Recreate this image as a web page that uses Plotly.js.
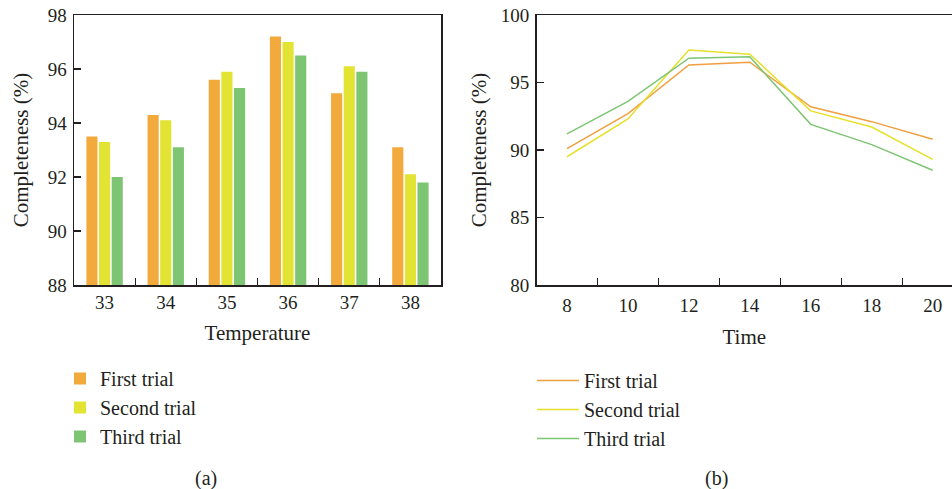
<!DOCTYPE html>
<html>
<head>
<meta charset="utf-8">
<script src="https://cdn.plot.ly/plotly-3.0.1.min.js"></script>
<style>html,body{margin:0;padding:0;background:#fff;}#chart{width:952px;height:489px;}</style>
</head>
<body>
<div id="chart"></div>
<script>
// ---- Data ----
const temperatures = ['33', '34', '35', '36', '37', '38'];
const barFirst  = [93.5, 94.3, 95.6, 97.2, 95.1, 93.1];
const barSecond = [93.3, 94.1, 95.9, 97.0, 96.1, 92.1];
const barThird  = [92.0, 93.1, 95.3, 96.5, 95.9, 91.8];

const times = ['8', '10', '12', '14', '16', '18', '20'];
const lineFirst  = [90.1, 92.7, 96.3, 96.5, 93.2, 92.1, 90.8];
const lineSecond = [89.5, 92.3, 97.4, 97.1, 92.9, 91.7, 89.3];
const lineThird  = [91.2, 93.6, 96.8, 96.9, 91.9, 90.4, 88.5];

const seriesNames = ['First trial', 'Second trial', 'Third trial'];

// ---- Styles ----
const colors = ['#F2AA3C', '#E2E333', '#7DC573'];
const lineColors = ['#F0A040', '#E6E02A', '#7DC573'];
const FONT = 'Liberation Serif, Times New Roman, serif';
const TXT = '#231F20';
const W = 952, H = 489;
const px = v => v / W;
const py = v => 1 - v / H;
const titleFont = {family: FONT, size: 21, color: TXT};
const legendFont = {family: FONT, size: 20, color: TXT};

const traces = [
  {type: 'bar', x: temperatures, y: barFirst,  name: seriesNames[0], marker: {color: colors[0]}, xaxis: 'x', yaxis: 'y', legend: 'legend'},
  {type: 'bar', x: temperatures, y: barSecond, name: seriesNames[1], marker: {color: colors[1]}, xaxis: 'x', yaxis: 'y', legend: 'legend'},
  {type: 'bar', x: temperatures, y: barThird,  name: seriesNames[2], marker: {color: colors[2]}, xaxis: 'x', yaxis: 'y', legend: 'legend'},
  {type: 'scatter', mode: 'lines', x: times, y: lineFirst,  name: seriesNames[0], line: {color: lineColors[0], width: 1.5}, xaxis: 'x2', yaxis: 'y2', legend: 'legend2'},
  {type: 'scatter', mode: 'lines', x: times, y: lineSecond, name: seriesNames[1], line: {color: lineColors[1], width: 1.5}, xaxis: 'x2', yaxis: 'y2', legend: 'legend2'},
  {type: 'scatter', mode: 'lines', x: times, y: lineThird,  name: seriesNames[2], line: {color: lineColors[2], width: 1.5}, xaxis: 'x2', yaxis: 'y2', legend: 'legend2'}
];

const axisCommon = {
  showline: true, linecolor: TXT, linewidth: 1.5,
  ticks: 'inside', ticklen: 7, tickwidth: 1.2, tickcolor: TXT,
  showgrid: false, zeroline: false, fixedrange: true,
  tickfont: {family: FONT, size: 19, color: TXT}
};

const layout = {
  width: W, height: H,
  margin: {l: 0, r: 0, t: 0, b: 0},
  paper_bgcolor: '#fff', plot_bgcolor: '#fff',
  font: {family: FONT, size: 19, color: TXT},
  showlegend: true,
  bargap: 0.38, bargroupgap: 0.12,
  xaxis: Object.assign({}, axisCommon, {
    domain: [px(74), px(441)], anchor: 'y', type: 'category',
    range: [-0.5, 5.5], tickson: 'boundaries', mirror: true,
    title: {text: 'Temperature', font: titleFont, standoff: 13}
  }),
  yaxis: Object.assign({}, axisCommon, {
    domain: [py(285), py(15)], anchor: 'x',
    range: [88, 98], dtick: 2, mirror: true, ticklabelstandoff: 2,
    title: {text: 'Completeness (%)', font: titleFont, standoff: 13}
  }),
  xaxis2: Object.assign({}, axisCommon, {
    domain: [px(536.5), 1], anchor: 'y2', type: 'category',
    range: [-0.5, 6.317], tickson: 'boundaries', mirror: true, ticklabelstandoff: 3,
    title: {text: 'Time', font: titleFont, standoff: 14}
  }),
  yaxis2: Object.assign({}, axisCommon, {
    domain: [py(285), py(15)], anchor: 'x2',
    range: [80, 100], dtick: 5, mirror: false, ticklabelstandoff: 2,
    title: {text: 'Completeness (%)', font: titleFont, standoff: 8}
  }),
  legend: {
    x: px(60), y: py(359), xanchor: 'left', yanchor: 'top',
    font: legendFont, bgcolor: 'rgba(0,0,0,0)',
    tracegroupgap: 0, itemclick: false, itemdoubleclick: false
  },
  legend2: {
    x: px(532), y: py(361), xanchor: 'left', yanchor: 'top', itemwidth: 42,
    font: legendFont, bgcolor: 'rgba(0,0,0,0)',
    tracegroupgap: 0, itemclick: false, itemdoubleclick: false
  },
  annotations: [
    {text: '(a)', xref: 'paper', yref: 'paper', x: px(206), y: py(478), showarrow: false, xanchor: 'center', yanchor: 'middle', font: {family: FONT, size: 20, color: TXT}},
    {text: '(b)', xref: 'paper', yref: 'paper', x: px(716), y: py(478), showarrow: false, xanchor: 'center', yanchor: 'middle', font: {family: FONT, size: 20, color: TXT}}
  ]
};

Plotly.newPlot('chart', traces, layout, {displayModeBar: false, staticPlot: true});
</script>
</body>
</html>
